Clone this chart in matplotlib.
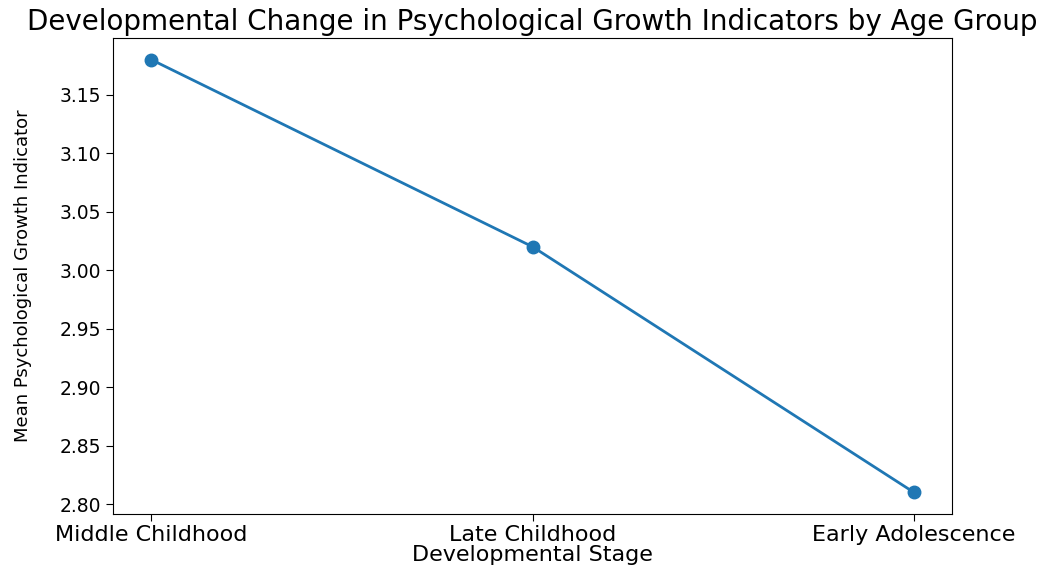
import matplotlib.pyplot as plt

stages = ["Middle Childhood", "Late Childhood", "Early Adolescence"]
mean_scores = [3.18, 3.02, 2.81]
y_ticks = [2.80, 2.85, 2.90, 2.95, 3.00, 3.05, 3.10, 3.15]

fig = plt.figure(figsize=(10.47, 5.71), dpi=100)
ax = fig.add_axes([0.108, 0.0998, 0.8013, 0.8337])
ax.plot(stages, mean_scores, marker="o", color="#1f77b4", linewidth=2, markersize=9)
ax.set_yticks(y_ticks)
ax.set_yticklabels([f"{v:.2f}" for v in y_ticks])
ax.tick_params(axis="y", labelsize=13.5, length=5)
ax.tick_params(axis="x", labelsize=16, length=5, pad=3)
ax.set_title("Developmental Change in Psychological Growth Indicators by Age Group",
             fontsize=20, pad=6)
ax.set_xlabel("Developmental Stage", fontsize=16, labelpad=0)
ax.set_ylabel("Mean Psychological Growth Indicator", fontsize=13, labelpad=20)
fig.savefig("out.png", dpi=100)
